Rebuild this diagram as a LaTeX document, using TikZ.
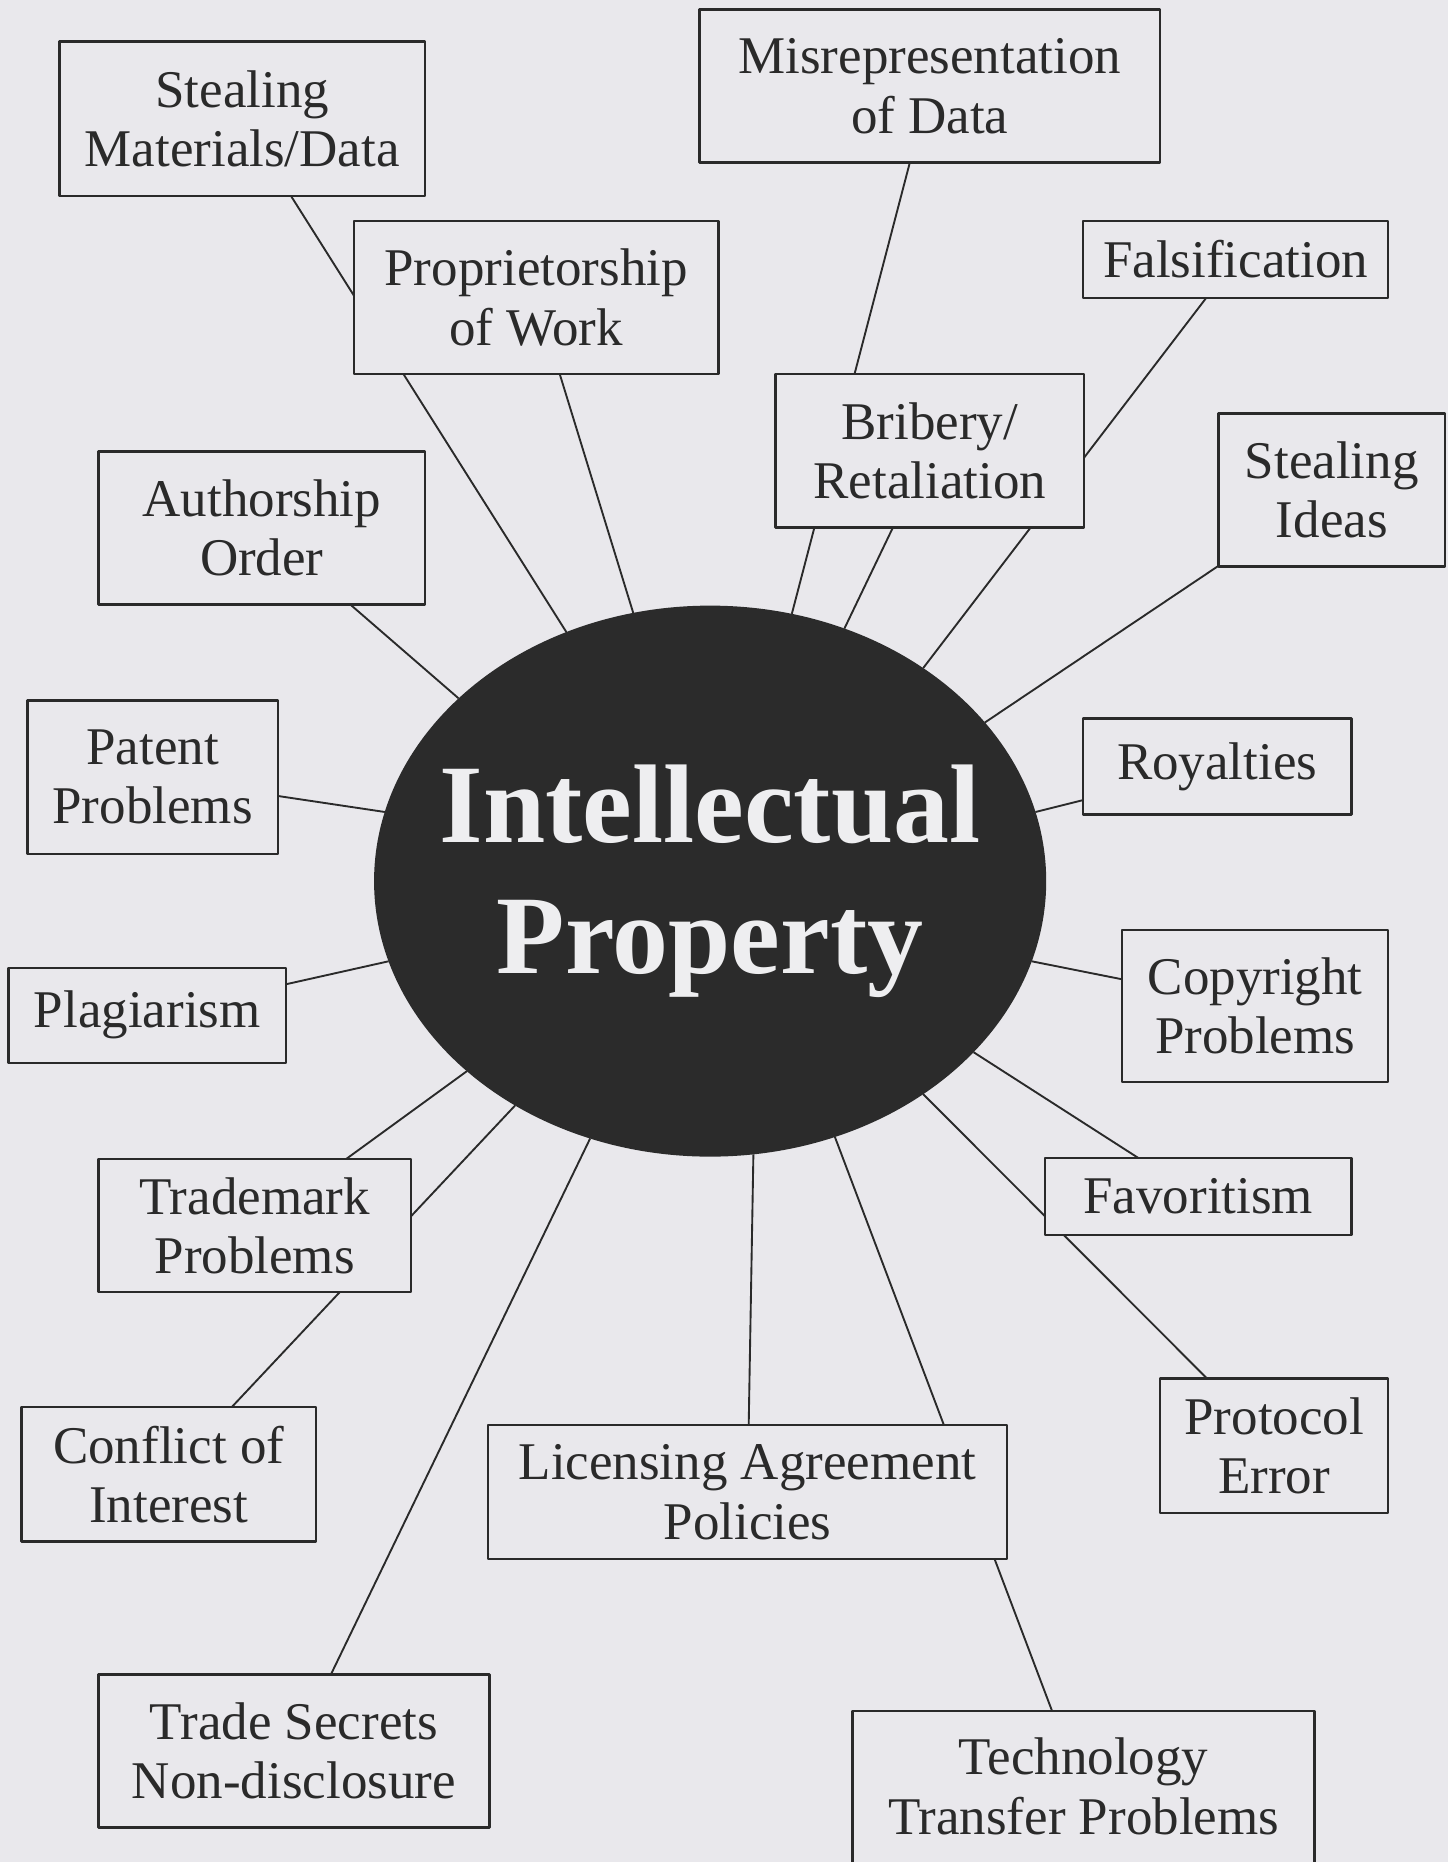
\documentclass[tikz,border=0pt]{standalone}
\usepackage{fontspec}
\setmainfont{Liberation Serif}
\usetikzlibrary{shapes.geometric}
\pgfdeclarelayer{back}
\pgfsetlayers{back,main}
\definecolor{paper}{HTML}{E9E8EC}
\definecolor{ink}{HTML}{2A2A2A}
\definecolor{blob}{HTML}{2B2B2B}
\definecolor{chalk}{HTML}{EEEEF0}

\begin{document}
\begin{tikzpicture}[x=1cm, y=-1cm, line cap=round, line join=round,
    issue/.style={draw=ink, fill=paper, text=ink, line width=0.6pt, inner sep=0pt,
      align=center, font=\fontsize{12.7}{14.2}\selectfont},
    link/.style={draw=ink, line width=0.45pt}]
  \useasboundingbox (0,0) rectangle (12.19,15.68);
  % Paper
  \begin{pgfonlayer}{back}
    \fill [paper] (0,0) rectangle (12.19,15.68);
  \end{pgfonlayer}
  % Centre
  \node [ellipse, fill=blob, minimum width=5.66cm, minimum height=4.64cm, inner sep=0pt, outer sep=0pt] (ip) at (5.98, 7.42) {};
  \node [text=chalk, align=center, font=\fontsize{26.8}{31.3}\selectfont\bfseries] (ipt) at (ip) {Intellectual\\Property};
  % Upper boxes
  \node [issue, minimum width=3.08cm, minimum height=1.30cm] (smd) at (2.04, 1.00) {Stealing\\Materials/Data};
  \node [issue, minimum width=3.88cm, minimum height=1.29cm] (mod) at (7.83, 0.725) {Misrepresentation\\of Data};
  \node [issue, minimum width=3.07cm, minimum height=1.29cm] (pow) at (4.515, 2.505) {Proprietorship\\of Work};
  \node [issue, minimum width=2.57cm, minimum height=0.65cm] (fal) at (10.405, 2.185) {Falsification};
  \node [issue, minimum width=2.60cm, minimum height=1.29cm] (bri) at (7.83, 3.795) {Bribery/\\Retaliation};
  \node [issue, minimum width=1.91cm, minimum height=1.29cm] (sid) at (11.215, 4.125) {Stealing\\Ideas};
  \node [issue, minimum width=2.75cm, minimum height=1.29cm] (aut) at (2.205, 4.445) {Authorship\\Order};
  % Side boxes
  \node [issue, minimum width=2.11cm, minimum height=1.29cm] (pat) at (1.285, 6.545) {Patent\\Problems};
  \node [issue, minimum width=2.26cm, minimum height=0.81cm] (roy) at (10.25, 6.455) {Royalties};
  \node [issue, minimum width=2.34cm, minimum height=0.80cm] (pla) at (1.24, 8.55) {Plagiarism};
  \node [issue, minimum width=2.24cm, minimum height=1.28cm] (cop) at (10.57, 8.47) {Copyright\\Problems};
  % Lower boxes
  \node [issue, minimum width=2.63cm, minimum height=1.12cm] (tmk) at (2.145, 10.32) {Trademark\\Problems};
  \node [issue, minimum width=2.58cm, minimum height=0.65cm] (fav) at (10.09, 10.075) {Favoritism};
  \node [issue, minimum width=2.48cm, minimum height=1.13cm] (coi) at (1.42, 12.415) {Conflict of\\Interest};
  \node [issue, minimum width=4.37cm, minimum height=1.13cm] (lap) at (6.295, 12.565) {Licensing Agreement\\Policies};
  \node [issue, minimum width=1.92cm, minimum height=1.13cm] (per) at (10.73, 12.175) {Protocol\\Error};
  \node [issue, minimum width=3.29cm, minimum height=1.29cm] (tsn) at (2.475, 14.745) {Trade Secrets\\Non-disclosure};
  % runs off the bottom edge
  \node [issue, minimum width=3.89cm, minimum height=1.40cm, text depth=0.14cm] (ttp) at (9.125, 15.11) {Technology\\Transfer Problems};
  % Spokes, kept under the boxes
  \begin{pgfonlayer}{back}
    \foreach \b/\a in {smd/120.5, pow/106.9, mod/73.1, bri/62.1, fal/45.5, sid/30.8,
        aut/144.4, pat/168.9, roy/12.2, pla/194.7, cop/346.6, tmk/218.1,
        coi/229.5, tsn/245.2, lap/279.3, ttp/296.4, per/315, fav/327.8}
      \draw [link] (ip.\a) -- (\b.center);
  \end{pgfonlayer}
\end{tikzpicture}
\end{document}
